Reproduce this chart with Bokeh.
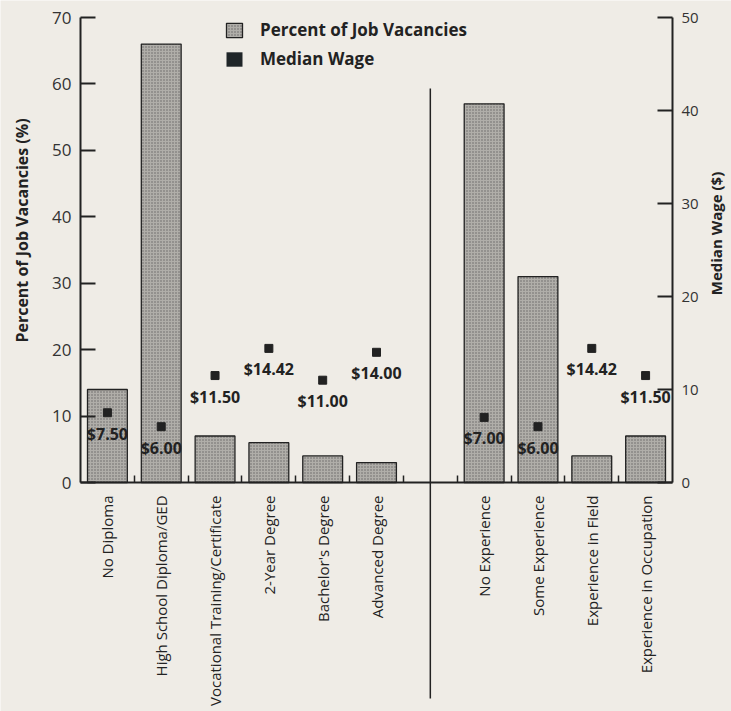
from math import pi
from bokeh.plotting import figure
from bokeh.models import (Range1d, LinearAxis, FixedTicker, ColumnDataSource,
                          LabelSet, Label, Legend, LegendItem)
from bokeh.core.properties import value
from bokeh.embed import file_html
from bokeh.resources import INLINE

# ---------------- data ----------------
education = ["No Diploma", "High School Diploma/GED", "Vocational Training/Certificate",
             "2-Year Degree", "Bachelor's Degree", "Advanced Degree"]
experience = ["No Experience", "Some Experience", "Experience in Field",
              "Experience in Occupation"]
edu_vacancy_pct = [14, 66, 7, 6, 4, 3]
exp_vacancy_pct = [57, 31, 4, 7]
edu_median_wage = [7.50, 6.00, 11.50, 14.42, 11.00, 14.00]
exp_median_wage = [7.00, 6.00, 14.42, 11.50]
pct_ticks = [0, 10, 20, 30, 40, 50, 60, 70]
wage_ticks = [0, 10, 20, 30, 40, 50]

# ---------------- layout (figure pixels) ----------------
FIG_W, FIG_H = 731, 711
AX_L, AX_R = 80, 672        # x of left / right value axes
Y_TOP, Y_ZERO = 17, 482     # y of top tick / zero line

n_edu = len(education)
gap_slot = n_edu
n_slots = n_edu + 1 + len(experience)
slot_px = (AX_R - AX_L) / n_slots
ppu = (Y_ZERO - Y_TOP) / pct_ticks[-1]
wage_scale = wage_ticks[-1] / pct_ticks[-1]


def px_x(px):
    return (px - AX_L) / slot_px


def px_y(py):
    return (Y_ZERO - py) / ppu


cats = education + experience
xs = [i + 0.5 for i in range(n_edu)] + [gap_slot + 1 + j + 0.5 for j in range(len(experience))]
boundaries = list(range(1, n_slots))
pct = edu_vacancy_pct + exp_vacancy_pct
wage = edu_median_wage + exp_median_wage
wage_txt = ["$%.2f" % w for w in wage]

src = ColumnDataSource(dict(x=xs, pct=pct, wage=wage, wage_txt=wage_txt,
                            zero=[0] * len(xs)))

BG = "#efece6"
INK = "#222222"
FONT = "Open Sans"

y0, y1 = px_y(FIG_H), px_y(0)
p = figure(width=FIG_W, height=FIG_H, output_backend="svg", toolbar_location=None,
           x_range=Range1d(px_x(0), px_x(FIG_W)), y_range=Range1d(y0, y1),
           min_border=0, min_border_left=0, min_border_right=0, min_border_top=0,
           min_border_bottom=0,
           background_fill_color=BG, border_fill_color=BG, outline_line_color=None)
p.grid.visible = False
p.extra_y_ranges = {"wage": Range1d(y0 * wage_scale, y1 * wage_scale)}

# bars
bars = p.vbar(x="x", top="pct", width=0.74, source=src, fill_color="#b0aea9",
              hatch_pattern="dot", hatch_scale=3, hatch_color="#333333", hatch_weight=1,
              hatch_alpha=0.6, line_color=INK, line_width=1.3)
# legend proxy for wage (zero-height bars)
wage_proxy = p.vbar(x="x", top="zero", width=0.0, source=src, fill_color="#1f2528",
                    line_color=None)
# wage markers
p.scatter(x="x", y="wage", source=src, y_range_name="wage", marker="square", size=8,
          fill_color=INK, line_color=INK)

# divider between the two groups
p.segment(x0=[gap_slot + 0.5], y0=[px_y(698)], x1=[gap_slot + 0.5], y1=[px_y(88)],
          line_color=INK, line_width=1.5)

labels = LabelSet(x="x", y="wage", text="wage_txt", source=src, y_range_name="wage",
                  y_offset=-21, text_align="center", text_baseline="middle",
                  text_font=value(FONT), text_font_style="bold", text_font_size="16px",
                  text_color=INK)
p.add_layout(labels)

# ---------------- axes (fixed inside the frame) ----------------
xa = p.xaxis[0]
xa.fixed_location = 0
xa.bounds = (0, n_slots)
xa.ticker = FixedTicker(ticks=xs, minor_ticks=boundaries)
xa.major_label_overrides = {x: c for x, c in zip(xs, cats)}
xa.major_label_orientation = pi / 2
xa.major_label_text_font = FONT
xa.major_label_text_font_size = "15px"
xa.major_label_text_color = INK
xa.major_label_standoff = 7
xa.major_tick_line_color = None
xa.minor_tick_in = 7
xa.minor_tick_out = 0
xa.minor_tick_line_color = INK
xa.minor_tick_line_width = 1.5
xa.axis_line_color = INK
xa.axis_line_width = 2

ya = p.yaxis[0]
ya.fixed_location = 0
ya.bounds = (pct_ticks[0], pct_ticks[-1])
ya.ticker = FixedTicker(ticks=pct_ticks)
ya.minor_tick_line_color = None
ya.major_tick_in = 15
ya.major_tick_out = 0
ya.major_tick_line_width = 2
ya.major_tick_line_color = INK
ya.axis_line_color = INK
ya.axis_line_width = 2
ya.major_label_text_font = FONT
ya.major_label_text_font_size = "17px"
ya.major_label_text_color = "#333333"
ya.major_label_standoff = 9

ra = LinearAxis(y_range_name="wage", ticker=FixedTicker(ticks=wage_ticks),
                bounds=(wage_ticks[0], wage_ticks[-1]), fixed_location=n_slots)
ra.minor_tick_line_color = None
ra.major_tick_in = 15
ra.major_tick_out = 0
ra.major_tick_line_width = 2
ra.major_tick_line_color = INK
ra.axis_line_color = INK
ra.axis_line_width = 2
ra.major_label_text_font = FONT
ra.major_label_text_font_size = "15px"
ra.major_label_text_color = "#333333"
ra.major_label_standoff = 9
p.add_layout(ra, "right")

# axis titles
p.add_layout(Label(x=px_x(21), y=px_y(230), text="Percent of Job Vacancies (%)",
                   angle=pi / 2, text_align="center", text_baseline="middle",
                   text_font=FONT, text_font_style="bold", text_font_size="16px",
                   text_color=INK))
p.add_layout(Label(x=px_x(715), y=px_y(233), text="Median Wage ($)",
                   angle=pi / 2, text_align="center", text_baseline="middle",
                   text_font=FONT, text_font_style="bold", text_font_size="15px",
                   text_color=INK))

legend = Legend(items=[LegendItem(label="Percent of Job Vacancies", renderers=[bars]),
                       LegendItem(label="Median Wage", renderers=[wage_proxy])],
                location=(224, 641), orientation="vertical",
                glyph_width=20, glyph_height=18, label_standoff=16, spacing=6,
                padding=0, margin=0, background_fill_alpha=0, border_line_color=None,
                label_text_font=FONT, label_text_font_style="bold",
                label_text_font_size="17px", label_text_color=INK)
p.add_layout(legend)

open("out.html", "w").write(file_html(p, INLINE))
